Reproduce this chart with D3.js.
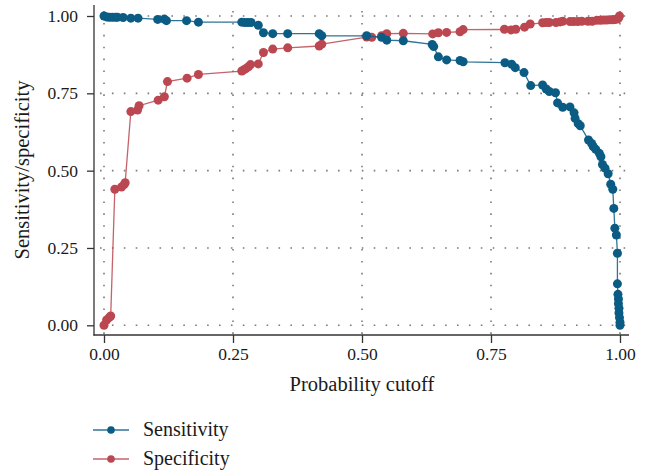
<!DOCTYPE html>
<html><head><meta charset="utf-8">
<script src="https://cdn.jsdelivr.net/npm/d3@7"></script>
<style>body{margin:0;background:#fff}svg{display:block}</style>
</head><body><svg id="c" width="648" height="470"></svg>
<script>
const xTicks = [0, 0.25, 0.5, 0.75, 1];
const yTicks = [0, 0.25, 0.5, 0.75, 1];
const seriesNames = ["Sensitivity", "Specificity"];

const sensCut = [0,0.005,0.010,0.016,0.022,0.026,0.037,0.052,0.066,0.104,0.117,0.121,0.160,0.183,0.267,0.273,0.279,0.285,0.299,0.309,0.327,0.356,0.417,0.422,0.509,0.538,0.548,0.580,0.636,0.639,0.648,0.664,0.690,0.696,0.777,0.790,0.797,0.814,0.827,0.850,0.857,0.863,0.875,0.879,0.889,0.903,0.911,0.913,0.919,0.923,0.939,0.945,0.948,0.953,0.960,0.963,0.966,0.971,0.977,0.982,0.986,0.988,0.990,0.993,0.995,0.995,0.996,0.997,0.997,0.998,0.998,0.999,1.000,1.000];
const sensVal = [1.000,0.997,0.996,0.996,0.996,0.996,0.995,0.993,0.993,0.989,0.990,0.985,0.985,0.980,0.980,0.979,0.979,0.979,0.970,0.946,0.943,0.943,0.943,0.936,0.936,0.931,0.922,0.920,0.908,0.901,0.868,0.858,0.856,0.852,0.849,0.844,0.833,0.817,0.775,0.777,0.764,0.756,0.752,0.719,0.705,0.706,0.687,0.669,0.652,0.645,0.599,0.588,0.578,0.569,0.556,0.545,0.520,0.508,0.490,0.456,0.440,0.378,0.314,0.292,0.233,0.134,0.100,0.085,0.070,0.055,0.040,0.025,0.010,0.000];

const specCut = [0,0.005,0.010,0.013,0.021,0.034,0.039,0.041,0.052,0.065,0.068,0.105,0.117,0.123,0.161,0.183,0.267,0.271,0.275,0.280,0.284,0.299,0.309,0.327,0.356,0.417,0.422,0.509,0.519,0.538,0.548,0.580,0.637,0.648,0.664,0.690,0.696,0.776,0.789,0.798,0.815,0.826,0.850,0.857,0.863,0.876,0.884,0.889,0.903,0.910,0.918,0.926,0.938,0.946,0.955,0.962,0.968,0.974,0.980,0.986,0.991,0.995,0.997,0.999];
const specVal = [0.000,0.017,0.025,0.030,0.440,0.447,0.455,0.461,0.691,0.696,0.710,0.728,0.739,0.788,0.799,0.811,0.822,0.826,0.830,0.836,0.843,0.845,0.882,0.893,0.897,0.903,0.909,0.932,0.931,0.936,0.943,0.944,0.942,0.946,0.947,0.949,0.956,0.957,0.955,0.957,0.964,0.974,0.978,0.979,0.979,0.979,0.981,0.983,0.982,0.982,0.982,0.983,0.983,0.983,0.986,0.986,0.987,0.987,0.988,0.988,0.989,0.990,0.993,1.000];

const colors = ["#0b5c84", "#bb4750"];

const svg = d3.select("#c");
const x = d3.scaleLinear().domain([0, 1]).range([104, 620]);
const y = d3.scaleLinear().domain([0, 1]).range([325.3, 16]);
const plotL = 94, plotR = 629, plotT = 5, plotB = 335;

// grid
const grid = svg.append("g").attr("stroke", "#7a7a7a").attr("stroke-width", 1.6)
  .attr("stroke-dasharray", "1.6,10.3").attr("fill", "none");
yTicks.forEach(t => grid.append("line").attr("x1", plotL + 6).attr("x2", plotR).attr("y1", y(t)).attr("y2", y(t)));
xTicks.forEach(t => grid.append("line").attr("x1", x(t)).attr("x2", x(t)).attr("y1", plotT + 6).attr("y2", plotB));

// axes
const font = "'Liberation Serif', 'DejaVu Serif', serif";
const yAxis = svg.append("g").attr("transform", `translate(${plotL},0)`)
  .call(d3.axisLeft(y).tickValues(yTicks).tickFormat(d3.format(".2f")).tickSize(7).tickPadding(9));
const xAxis = svg.append("g").attr("transform", `translate(0,${plotB})`)
  .call(d3.axisBottom(x).tickValues(xTicks).tickFormat(d3.format(".2f")).tickSize(8).tickPadding(5));
[xAxis, yAxis].forEach(a => {
  a.select(".domain").remove();
  a.selectAll(".tick line").attr("stroke", "#333").attr("stroke-width", 1.3);
  a.selectAll(".tick text").attr("fill", "#1a1a1a").style("font-family", font).style("font-size", "17.5px");
});
svg.append("line").attr("x1", plotL).attr("x2", plotL).attr("y1", plotT).attr("y2", plotB + 0.6)
  .attr("stroke", "#333").attr("stroke-width", 1.3);
svg.append("line").attr("x1", plotL - 0.6).attr("x2", plotR).attr("y1", plotB).attr("y2", plotB)
  .attr("stroke", "#333").attr("stroke-width", 1.3);

// titles
svg.append("text").attr("x", 362).attr("y", 391).attr("text-anchor", "middle")
  .style("font-family", font).style("font-size", "20.5px").attr("fill", "#1a1a1a").text("Probability cutoff");
svg.append("text").attr("transform", "translate(29,170) rotate(-90)").attr("text-anchor", "middle")
  .style("font-family", font).style("font-size", "20.5px").attr("fill", "#1a1a1a").text("Sensitivity/specificity");

// series
const series = [
  { cut: sensCut, val: sensVal },
  { cut: specCut, val: specVal }
];
const line = d3.line().x(d => x(d[0])).y(d => y(d[1]));
[1, 0].forEach(i => {
  const s = series[i];
  const pts = s.cut.map((c, j) => [c, s.val[j]]);
  const g = svg.append("g");
  g.append("path").datum(pts).attr("d", line).attr("fill", "none")
    .attr("stroke", colors[i]).attr("stroke-opacity", 0.85).attr("stroke-width", 1.3);
  g.selectAll("circle").data(pts).join("circle")
    .attr("cx", d => x(d[0])).attr("cy", d => y(d[1])).attr("r", 4.5).attr("fill", colors[i]);
});

// legend
const lg = svg.append("g");
seriesNames.forEach((n, i) => {
  const yy = 430 + i * 29;
  lg.append("line").attr("x1", 93).attr("x2", 129).attr("y1", yy).attr("y2", yy)
    .attr("stroke", colors[i]).attr("stroke-width", 1.3).attr("stroke-opacity", 0.85);
  lg.append("circle").attr("cx", 111).attr("cy", yy).attr("r", 3.8).attr("fill", colors[i]);
  lg.append("text").attr("x", 143).attr("y", yy + 6).style("font-family", font).style("font-size", "20px")
    .attr("fill", "#1a1a1a").text(n);
});
</script></body></html>
